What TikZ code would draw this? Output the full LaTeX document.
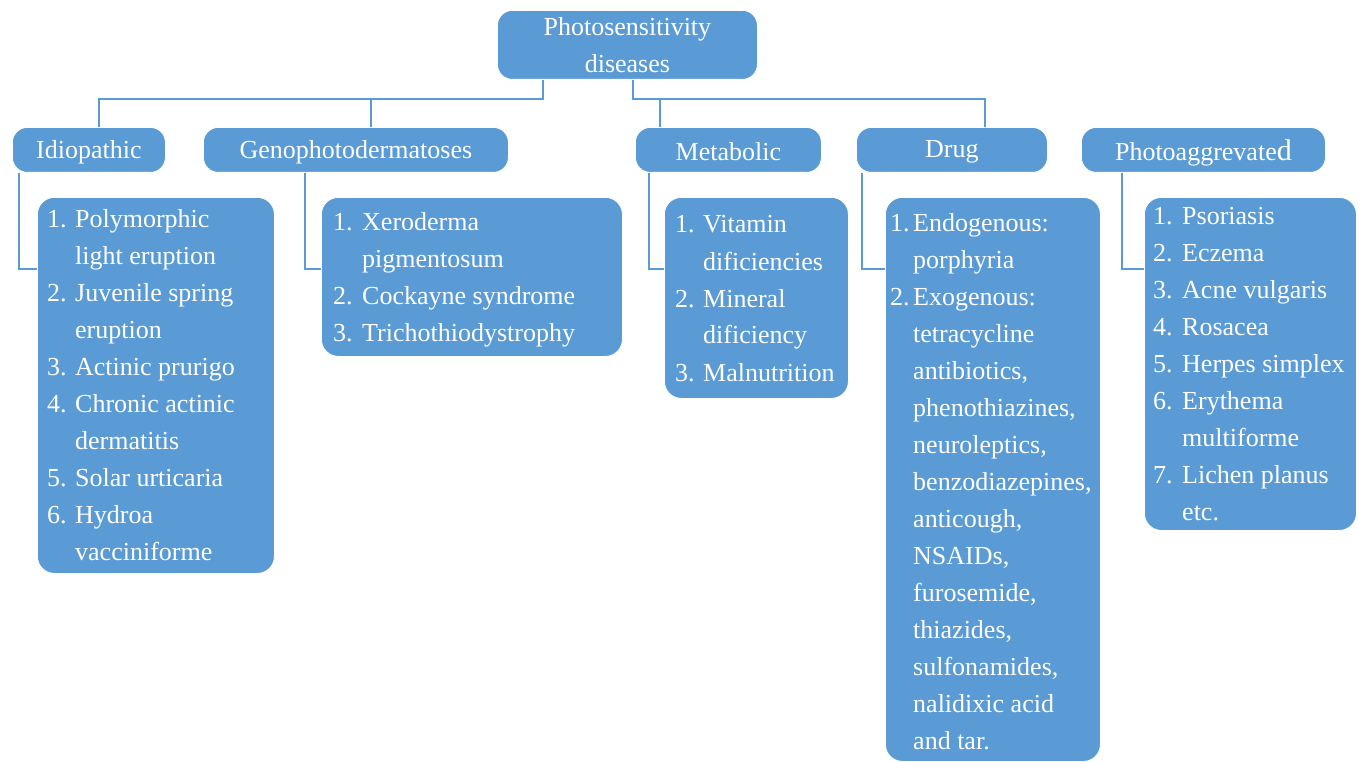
\documentclass[tikz,border=0pt]{standalone}
\usepackage{fontspec}
\setmainfont{LiberationSerif}[Extension=.ttf, UprightFont=*-Regular, BoldFont=*-Bold]
\definecolor{boxblue}{HTML}{5B9BD5}
\tikzset{
  box/.style={fill=boxblue, draw=white, line width=0.8pt, rounded corners=15pt, inner sep=0pt, anchor=north west},
  head/.style={text=white, font=\fontsize{26}{37}\selectfont, align=center, inner sep=0pt},
  items/.style={text=white, font=\fontsize{26}{37}\selectfont, inner sep=0pt, anchor=base west},
  conn/.style={draw=boxblue, line width=2pt}
}
\begin{document}
\begin{tikzpicture}[x=1pt,y=-1pt]
\useasboundingbox (0,0) rectangle (1359,762);
% heading boxes
\node[box, minimum width=260pt, minimum height=69pt] (root) at (497,10) {};
\node[head] (roott) at (root.center) {Photosensitivity\\diseases};
\node[box, minimum width=153pt, minimum height=45pt] (idh) at (12,127) {};
\node[head] (idht) at ([yshift=-2pt]idh.center) {Idiopathic};
\node[box, minimum width=305pt, minimum height=45pt] (geh) at (203,127) {};
\node[head] (geht) at ([yshift=-2pt]geh.center) {Genophotodermatoses};
\node[box, minimum width=186pt, minimum height=45pt] (meh) at (635,127) {};
\node[head] (meht) at ([yshift=-2pt]meh.center) {Metabolic};
\node[box, minimum width=191pt, minimum height=45pt] (drh) at (856,127) {};
\node[head] (drht) at ([yshift=-2pt]drh.center) {Drug};
\node[box, minimum width=244pt, minimum height=45pt] (phh) at (1081,127) {};
\node[head] (phht) at ([yshift=-3pt]phh.center) {Photoaggrevate{\fontsize{30}{37}\selectfont d}};
% list boxes
\node[box, rounded corners=17pt, minimum width=237pt, minimum height=376pt] (idl) at (37,197) {};
\node[box, rounded corners=17pt, minimum width=301pt, minimum height=159pt] (gel) at (321,197) {};
\node[box, rounded corners=17pt, minimum width=184pt, minimum height=201pt] (mel) at (664,197) {};
\node[box, rounded corners=17pt, minimum width=215pt, minimum height=564pt] (drl) at (885,197) {};
\node[box, rounded corners=17pt, minimum width=212pt, minimum height=333pt] (phl) at (1144,197) {};
% list texts
\node[items] (idlt) at (47,227) {\begin{tabular}[t]{@{}l@{\hspace{8.5pt}}l@{}}
1. & Polymorphic\\ & light eruption\\
2. & Juvenile spring\\ & eruption\\
3. & Actinic prurigo\\
4. & Chronic actinic\\ & dermatitis\\
5. & Solar urticaria\\
6. & Hydroa\\ & vacciniforme
\end{tabular}};
\node[items] (gelt) at (333,230) {\begin{tabular}[t]{@{}l@{\hspace{9.5pt}}l@{}}
1. & Xeroderma\\ & pigmentosum\\
2. & Cockayne syndrome\\
3. & Trichothiodystrophy
\end{tabular}};
\node[items] (melt) at (675,233) {\begin{tabular}[t]{@{}l@{\hspace{8.5pt}}l@{}}
1. & Vitamin\\ & dificiencies\\
2. & Mineral\\ & dificiency\\
3. & Malnutrition
\end{tabular}};
\node[items] (drlt) at (890,231) {\begin{tabular}[t]{@{}l@{\hspace{3.5pt}}l@{}}
1. & Endogenous:\\ & porphyria\\
2. & Exogenous:\\ & tetracycline\\ & antibiotics,\\ & phenothiazines,\\
 & neuroleptics,\\ & benzodiazepines,\\ & anticough,\\ & NSAIDs,\\
 & furosemide,\\ & thiazides,\\ & sulfonamides,\\ & nalidixic acid\\ & and tar.
\end{tabular}};
\node[items] (phlt) at (1153,224) {\begin{tabular}[t]{@{}l@{\hspace{9.5pt}}l@{}}
1. & Psoriasis\\
2. & Eczema\\
3. & Acne vulgaris\\
4. & Rosacea\\
5. & Herpes simplex\\
6. & Erythema\\ & multiforme\\
7. & Lichen planus\\ & etc.
\end{tabular}};
% connectors from root
\draw[conn] ([xshift=-84pt]root.south) -- ++(0,19) -| ([xshift=10pt]idh.north);
\draw[conn] ([xshift=6pt]root.south) -- ++(0,19) -| ([xshift=33pt]drh.north);
\coordinate (b1) at (371,98);
\coordinate (b2) at (660,98);
\draw[conn] (b1) -- (b1 |- geh.north);
\draw[conn] (b2) -- (b2 |- meh.north);
% connectors heading to lists
\draw[conn] ([xshift=7pt]idh.south west) |- ([yshift=-72pt]idl.north west);
\draw[conn] ([xshift=102pt]geh.south west) |- ([yshift=-72pt]gel.north west);
\draw[conn] ([xshift=14pt]meh.south west) |- ([yshift=-72pt]mel.north west);
\draw[conn] ([xshift=6pt]drh.south west) |- ([yshift=-72pt]drl.north west);
\draw[conn] ([xshift=41pt]phh.south west) |- ([yshift=-72pt]phl.north west);
\end{tikzpicture}
\end{document}
